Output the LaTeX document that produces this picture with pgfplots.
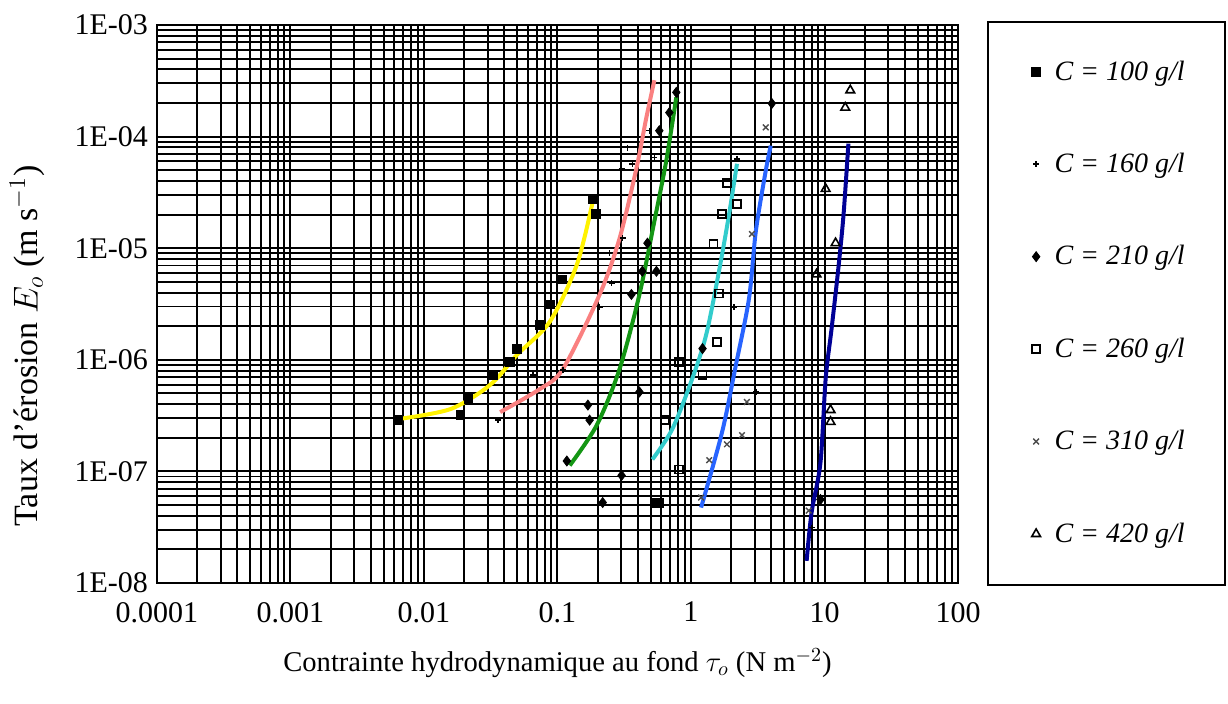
\documentclass[border=0pt]{standalone}
\usepackage{fontspec}
\setmainfont{Liberation Serif}
\usepackage{pgfplots}
\pgfplotsset{compat=1.18}
\definecolor{cpink}{RGB}{250,128,128}
\definecolor{cgreen}{RGB}{20,150,20}
\definecolor{ccyan}{RGB}{51,204,204}
\definecolor{cblue}{RGB}{40,100,255}
\definecolor{cdblue}{RGB}{0,0,150}
\begin{document}
\begin{tikzpicture}[x=1pt,y=1pt]
\useasboundingbox (0,0) rectangle (614,352);
\begin{axis}[
  at={(78.5pt,60.5pt)}, anchor=south west,
  scale only axis, width=400.5pt, height=279pt,
  xmode=log, ymode=log,
  xmin=1e-4, xmax=100, ymin=1e-8, ymax=1e-3,
  xtick={1e-4,1e-3,0.01,0.1,1,10,100},
  xticklabels={0.0001,0.001,0.01,0.1,1,10,100},
  ytick={1e-8,1e-7,1e-6,1e-5,1e-4,1e-3},
  yticklabels={1E-08,1E-07,1E-06,1E-05,1E-04,1E-03},
  minor xtick={2e-4,3e-4,4e-4,5e-4,6e-4,7e-4,8e-4,9e-4,
    2e-3,3e-3,4e-3,5e-3,6e-3,7e-3,8e-3,9e-3,
    0.02,0.03,0.04,0.05,0.06,0.07,0.08,0.09,
    0.2,0.3,0.4,0.5,0.6,0.7,0.8,0.9,
    2,3,4,5,6,7,8,9,20,30,40,50,60,70,80,90},
  minor ytick={2e-8,3e-8,4e-8,5e-8,6e-8,7e-8,8e-8,9e-8,
    2e-7,3e-7,4e-7,5e-7,6e-7,7e-7,8e-7,9e-7,
    2e-6,3e-6,4e-6,5e-6,6e-6,7e-6,8e-6,9e-6,
    2e-5,3e-5,4e-5,5e-5,6e-5,7e-5,8e-5,9e-5,
    2e-4,3e-4,4e-4,5e-4,6e-4,7e-4,8e-4,9e-4},
  grid=both,
  major grid style={black, line width=1pt},
  minor grid style={black, line width=0.95pt},
  axis line style={black, line width=1pt},
  major tick length=0pt, minor tick length=0pt,
  tick label style={font=\fontsize{15}{17}\selectfont},
  xticklabel style={yshift=-6pt},
  yticklabel style={xshift=-1pt},
  xlabel style={font=\fontsize{14.3}{17}\selectfont, yshift=-6pt},
  ylabel style={font=\fontsize{17}{19}\selectfont, yshift=8pt, xshift=-21pt},
  xlabel={Contrainte hydrodynamique au fond $\tau_o$ (N m$^{-2}$)},
  ylabel={Taux d'érosion $E_o$ (m s$^{-1}$)},
  legend style={draw=none, fill=none, at={(axis description cs:1.19,0.502)}, anchor=center,
    row sep=31pt, column sep=5pt, font=\fontsize{14}{16}\selectfont},
  legend cell align=left,
]
% fitted curves
\addplot[yellow, line width=2pt, smooth, forget plot] coordinates {(0.00635,2.94e-7) (0.0158,3.62e-7) (0.0313,5.96e-7) (0.0498,1.11e-6) (0.0877,2.2e-6) (0.140,7.18e-6) (0.184,2.65e-5)};
\addplot[cpink, line width=2pt, smooth, forget plot] coordinates {(0.0372,3.40e-7) (0.074,5.48e-7) (0.110,8.3e-7) (0.207,3.85e-6) (0.292,1.23e-5) (0.391,5.26e-5) (0.463,1.48e-4) (0.532,3.2e-4)};
\addplot[cgreen, line width=2pt, smooth, forget plot] coordinates {(0.1236,1.13e-7) (0.197,2.6e-7) (0.292,8.3e-7) (0.411,3.85e-6) (0.532,1.75e-5) (0.653,6.08e-5) (0.776,2.25e-4)};
\addplot[ccyan, line width=2pt, smooth, forget plot] coordinates {(0.514,1.28e-7) (0.724,2.39e-7) (1.02,6.74e-7) (1.30,1.68e-6) (1.62,6.2e-6) (1.93,2.02e-5) (2.21,5.71e-5)};
\addplot[cblue, line width=2pt, smooth, forget plot] coordinates {(1.19,4.74e-8) (1.71,2.25e-7) (2.17,9.0e-7) (2.72,3.55e-6) (3.06,1.42e-5) (3.63,4.94e-5) (3.96,8.3e-5)};
\addplot[cdblue, line width=2pt, smooth, forget plot] coordinates {(7.35,1.58e-8) (8.0,4.27e-8) (9.33,1.2e-7) (10.2,6.74e-7) (11.3,1.9e-6) (12.7,6.6e-6) (13.9,2.02e-5) (15.1,8.65e-5)};
% measurements
\addplot[only marks, mark=square*, mark size=2.2pt, black] coordinates {(0.00635,2.88e-7) (0.01875,3.2e-7) (0.0215,4.45e-7) (0.0330,7.33e-7) (0.0442,9.6e-7) (0.0498,1.26e-6) (0.0740,2.07e-6) (0.0877,3.13e-6) (0.108,5.26e-6) (0.184,2.76e-5) (0.193,2.02e-5) (0.551,5.26e-8) (0.579,5.26e-8)};
\addlegendentry{\textit{C = 100 g/l}}
\addplot[only marks, mark=+, mark size=1.5pt, line width=0.8pt, black] coordinates {(0.0360,2.88e-7) (0.0656,7.33e-7) (0.110,8.13e-7) (0.207,2.98e-6) (0.254,4.84e-6) (0.245,9.02e-6) (0.307,1.23e-5) (0.302,5.15e-5) (0.335,7.96e-5) (0.364,5.71e-5) (0.488,1.13e-4) (0.532,6.47e-5) (2.10,2.98e-6) (2.21,6.33e-5) (3.06,5.15e-7) (8.0,3.13e-8)};
\addlegendentry{\textit{C = 160 g/l}}
\addplot[only marks, mark=diamond*, mark size=2.5pt, black] coordinates {(0.169,3.93e-7) (0.174,2.88e-7) (0.1175,1.24e-7) (0.776,2.49e-4) (0.689,1.64e-4) (0.579,1.13e-4) (0.472,1.11e-5) (0.551,6.21e-6) (0.432,6.21e-6) (0.358,3.85e-6) (0.218,5.26e-8) (0.302,9.2e-8) (0.411,5.15e-7) (1.22,1.26e-6) (4.03,1.98e-4) (9.33,5.6e-8)};
\addlegendentry{\textit{C = 210 g/l}}
\addplot[only marks, mark=square, mark size=2pt, line width=0.8pt, black] coordinates {(1.86,3.85e-5) (2.21,2.49e-5) (1.71,2.02e-5) (1.47,1.09e-5) (1.62,3.93e-6) (1.57,1.45e-6) (1.22,7.33e-7) (0.641,2.88e-7) (0.817,1.04e-7) (0.817,9.6e-7)};
\addlegendentry{\textit{C = 260 g/l}}
\addplot[only marks, mark=x, mark size=2pt, line width=0.7pt, black!70] coordinates {(3.63,1.21e-4) (2.86,1.34e-5) (2.62,4.19e-7) (2.41,2.11e-7) (1.86,1.75e-7) (1.37,1.26e-7) (1.19,5.83e-8) (7.61,4.45e-8)};
\addlegendentry{\textit{C = 310 g/l}}
\addplot[only marks, mark=triangle, mark size=2.5pt, line width=0.8pt, black] coordinates {(15.6,2.60e-4) (14.3,1.82e-4) (10.2,3.40e-5) (12.1,1.11e-5) (8.71,5.83e-6) (11.1,3.55e-7) (11.1,2.78e-7)};
\addlegendentry{\textit{C = 420 g/l}}
\end{axis}
\draw[line width=1pt] (494,59.5) rectangle (612.5,341);
\end{tikzpicture}
\end{document}
